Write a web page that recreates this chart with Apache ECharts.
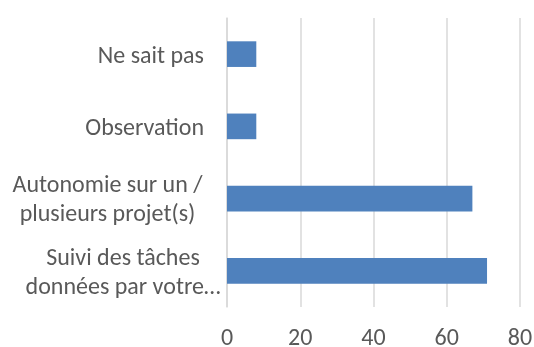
<!DOCTYPE html>
<html>
<head>
<meta charset="utf-8">
<script src="https://cdn.jsdelivr.net/npm/echarts@6/dist/echarts.min.js"></script>
<style>
  html, body { margin: 0; padding: 0; background: #fff; }
  #chart { width: 534px; height: 347px; }
</style>
</head>
<body>
<div id="chart"></div>
<script>
// Categories listed bottom to top, as the category axis stacks them
const categories = [
  ['Suivi des tâches', 'données par votre…'],
  ['Autonomie sur un /', 'plusieurs projet(s)'],
  ['Observation'],
  ['Ne sait pas']
];
const values = [71, 67, 8, 8];
const tickValues = [0, 20, 40, 60, 80];

const FONT = 'Carlito, Calibri, Lato, sans-serif';
const TEXT = '#595959';
const SIZE = 24;

// Per-label block styling: two-line labels are centred inside their block
const labelStyles = {
  c0: { width: 194, align: 'center', padding: [5, 0, 0, 0] },
  c1: { width: 187, align: 'center', padding: [3, 19, 0, 0] },
  c2: { align: 'right', padding: [5, 16, 0, 0] },
  c3: { align: 'right', padding: [5, 16, 0, 0] }
};
const rich = {};
Object.keys(labelStyles).forEach(k => {
  rich[k] = Object.assign({ fontFamily: FONT, fontSize: SIZE, color: TEXT, lineHeight: 29 }, labelStyles[k]);
});

const chart = echarts.init(document.getElementById('chart'), null, { renderer: 'canvas' });
chart.setOption({
  animation: false,
  backgroundColor: '#ffffff',
  grid: { left: 227, right: 14, top: 18, bottom: 40, containLabel: false, outerBoundsMode: 'none' },
  xAxis: {
    type: 'value',
    min: tickValues[0],
    max: tickValues[tickValues.length - 1],
    interval: tickValues[1] - tickValues[0],
    axisLine: { show: false },
    axisTick: { show: false },
    splitLine: { show: true, lineStyle: { color: '#d9d9d9', width: 1.5 } },
    axisLabel: { fontFamily: FONT, fontSize: SIZE, color: TEXT, margin: 20 }
  },
  yAxis: {
    type: 'category',
    data: categories.map(c => c.join('\n')),
    axisLine: { show: true, lineStyle: { color: '#d9d9d9', width: 1.5 } },
    axisTick: { show: false },
    splitLine: { show: false },
    axisLabel: {
      margin: 7,
      formatter: (v, i) => categories[i].map(line => '{c' + i + '|' + line + '}').join('\n'),
      rich: rich
    }
  },
  series: [{
    type: 'bar',
    data: values,
    barCategoryGap: '64.5%',
    itemStyle: { color: '#4f81bd' }
  }]
});
</script>
</body>
</html>
